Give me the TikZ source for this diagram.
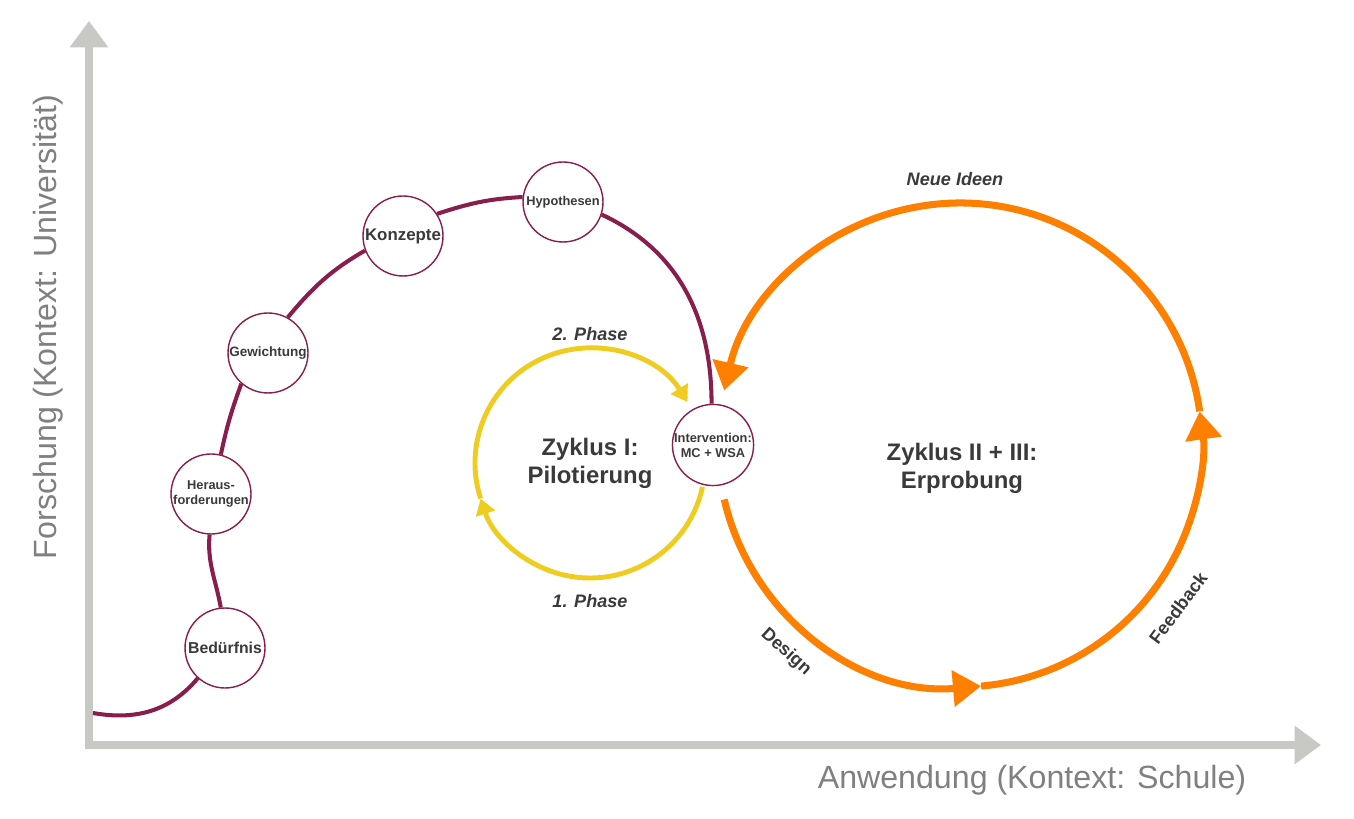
\documentclass[tikz,border=0pt]{standalone}
\usepackage{fontspec}
\setmainfont{Liberation Sans}
\usetikzlibrary{arrows.meta, positioning, calc}
\definecolor{cAxis}{RGB}{200,200,196}
\definecolor{cAxisText}{RGB}{128,128,128}
\definecolor{cWine}{RGB}{135,30,75}
\definecolor{cGold}{RGB}{238,204,32}
\definecolor{cOrange}{RGB}{255,128,0}
\definecolor{cText}{RGB}{58,58,58}
\tikzset{
	axis/.style     ={line width=4.5pt, cAxis, {Triangle[length=15pt, width=21pt]}-{Triangle[length=15pt, width=21pt]}},
	axislabel/.style={text=cAxisText, font=\fontsize{18.3}{22}\selectfont},
	% stations on the research spiral
	station/.style  ={circle, draw=cWine, line width=0.8pt, fill=white, minimum size=1.6cm, inner sep=0pt, align=center, text=cText, font=\bfseries\fontsize{7.3}{8.6}\selectfont},
	spiral/.style   ={cWine, line width=2.3pt},
	% cycles
	phase/.style    ={cGold, line width=2.8pt, -{Triangle[length=9pt, width=11pt]}},
	trial/.style    ={cOrange, line width=4pt, -{Triangle[length=16pt, width=20pt]}},
	cyclename/.style={align=center, text=cText, font=\bfseries\fontsize{13.6}{16}\selectfont},
	steplabel/.style={text=cText, font=\bfseries\itshape\fontsize{10.3}{12}\selectfont},
	turnlabel/.style={text=cText, font=\bfseries\fontsize{10.3}{12}\selectfont},
}
\begin{document}
\begin{tikzpicture}[x=0.02cm, y=0.02cm]
	\useasboundingbox (0,0) rectangle (1354,818);
	% ---- axes ----
	\coordinate (origin) at (89,73);
	\coordinate (ytip) at (89,797);
	\coordinate (xtip) at (1321,73);
	\draw[axis] (ytip) -- (origin) -- (xtip);
	\node[axislabel] (xlab) at (1032,38) {Anwendung (Kontext: Schule)};
	\node[axislabel, rotate=90] (ylab) at (48,491) {Forschung (Kontext: Universität)};
	% ---- Zyklus I ----
	\coordinate (zyk1) at (590,355);
	\draw[phase] ($(zyk1)+(-12:115)$) arc[start angle=-12, end angle=-162, radius=115];
	\draw[phase] ($(zyk1)+(198:115)$) arc[start angle=198, end angle=32, radius=115];
	\node[cyclename] (pilot) at (zyk1) {Zyklus I:\\Pilotierung};
	\node[steplabel] (ph2) at (590,484) {2. Phase};
	\node[steplabel] (ph1) at (590,217) {1. Phase};
	% ---- Zyklus II + III ----
	\coordinate (zyk2) at (960,373);
	\draw[trial] ($(zyk2)+(193:242)$) arc[start angle=193, end angle=275, radius=242];
	\draw[trial] ($(zyk2)+(275:242)$) arc[start angle=275, end angle=368, radius=242];
	\draw[trial] ($(zyk2)+(8:242)$) arc[start angle=8, end angle=167, radius=242];
	\node[cyclename] (erprob) at (962,350) {Zyklus II + III:\\Erprobung};
	\node[steplabel] (ideen) at (955,639) {Neue Ideen};
	\node[turnlabel, rotate=-42] (design) at (786,166) {Design};
	\node[turnlabel, rotate=53] (feedb) at (1178,210) {Feedback};
	% ---- spiral ----
	\coordinate (start) at (93,105);
	\node[station, font=\bfseries\fontsize{9}{10}\selectfont] (bed) at (225,170) {Bedürfnis};
	\node[station] (her) at (211,324) {Heraus-\\forderungen};
	\node[station, font=\bfseries\fontsize{7.7}{9}\selectfont] (gew) at (268,465) {Gewichtung};
	\node[station, font=\bfseries\fontsize{9.6}{11}\selectfont] (kon) at (403,582) {Konzepte};
	\node[station] (hyp) at (563,616) {Hypothesen};
	\node[station] (int) at (713,373) {Intervention:\\MC + WSA};
	\draw[spiral] (start) to[out=-10, in=230] (bed.228)
		(bed.96) to[out=100, in=-95] (her.268)
		(her.76) to[out=78, in=-110] (gew.229)
		(gew.61) to[out=50, in=-150] (kon.201)
		(kon.33) to[out=18, in=183] (hyp.173)
		(hyp.-18) to[out=-25, in=90] (int.92);
\end{tikzpicture}
\end{document}
